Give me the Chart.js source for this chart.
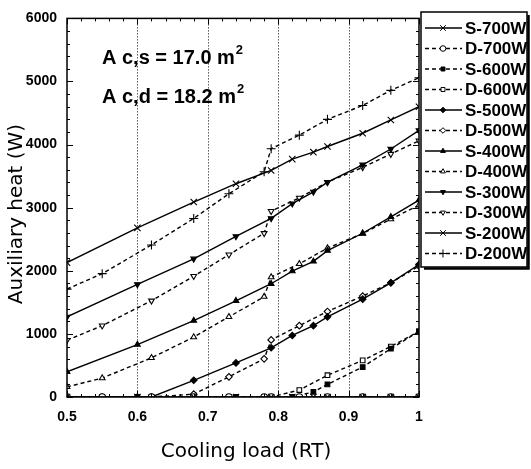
<!DOCTYPE html>
<html>
<head>
<meta charset="utf-8">
<script src="https://cdn.jsdelivr.net/npm/chart.js@4/dist/chart.umd.min.js"></script>
<style>
  html, body { margin: 0; padding: 0; background: #fff; }
  #wrap { width: 531px; height: 469px; position: relative; }
</style>
</head>
<body>
<div id="wrap"><canvas id="chart"></canvas></div>
<script>
// cooling load (RT) sample points
const xS = [0.5, 0.6, 0.68, 0.74, 0.79, 0.82, 0.85, 0.87, 0.92, 0.96, 1.0];
const xS500 = [0.5, 0.6, 0.62, 0.68, 0.74, 0.79, 0.82, 0.85, 0.87, 0.92, 0.96, 1.0];
const xD = [0.5, 0.55, 0.62, 0.68, 0.73, 0.78, 0.79, 0.83, 0.87, 0.92, 0.96, 1.0];

// auxiliary heat (W)
const s700 = [0, 0, 0, 0, 0, 0, 0, 0, 0, 0, 0];
const d700 = [0, 0, 0, 0, 0, 0, 0, 0, 0, 0, 0, 0];
const s600 = [0, 0, 0, 0, 0, 0, 80, 200, 475, 765, 1040];
const d600 = [0, 0, 0, 0, 0, 0, 0, 110, 345, 580, 800, 1040];
const s500 = [0, 0, 0, 265, 540, 780, 975, 1130, 1270, 1550, 1810, 2100];
const d500 = [0, 0, 0, 45, 320, 605, 905, 1130, 1355, 1600, 1810, 2075];
const s400 = [400, 830, 1210, 1525, 1795, 1995, 2150, 2320, 2595, 2855, 3120];
const d400 = [160, 300, 620, 950, 1270, 1590, 1900, 2110, 2360, 2590, 2820, 3040];
const s300 = [1270, 1785, 2190, 2545, 2830, 3065, 3250, 3405, 3680, 3930, 4225];
const d300 = [900, 1130, 1525, 1915, 2255, 2595, 2945, 3155, 3405, 3640, 3850, 4060];
const s200 = [2130, 2680, 3090, 3380, 3590, 3770, 3880, 3970, 4180, 4390, 4600];
const d200 = [1710, 1955, 2410, 2830, 3220, 3570, 3935, 4150, 4400, 4620, 4860, 5060];

const xTicks = [0.5, 0.6, 0.7, 0.8, 0.9, 1.0];
const gridLines = [0.6, 0.7, 0.8, 0.9];
const noteLines = ["A c,s = 17.0 m", "A c,d = 18.2 m"];

const tickFont = "'Liberation Sans', Arial, sans-serif";
const titleFont = "20px 'DejaVu Sans', sans-serif";

let pts = function(xs, ys) {
  return xs.map((x, i) => ({x: x, y: ys[i]}));
};

// label, x, y, dashed, point style, filled, rotation
let makeSet = function(label, xs, ys, dashed, style, filled, rot) {
  return {
    label: label,
    data: pts(xs, ys),
    showLine: true,
    borderColor: "#000",
    borderWidth: 1.4,
    borderDash: dashed ? [4, 3] : [],
    pointStyle: style,
    pointRotation: rot || 0,
    pointRadius: (style == "crossRot" || style == "cross") ? 4.5 : 3.3,
    pointBorderWidth: 1.1,
    pointBorderColor: "#000",
    pointBackgroundColor: filled ? "#000" : "#fff",
    tension: 0
  };
};

const datasets = [
  makeSet("S-700W", xS, s700, false, "crossRot", true),
  makeSet("D-700W", xD, d700, true, "circle", false),
  makeSet("S-600W", xS, s600, true, "rect", true),
  makeSet("D-600W", xD, d600, true, "rect", false),
  makeSet("S-500W", xS500, s500, false, "rectRot", true),
  makeSet("D-500W", xD, d500, true, "rectRot", false),
  makeSet("S-400W", xS, s400, false, "triangle", true),
  makeSet("D-400W", xD, d400, true, "triangle", false),
  makeSet("S-300W", xS, s300, false, "triangle", true, 180),
  makeSet("D-300W", xD, d300, true, "triangle", false, 180),
  makeSet("S-200W", xS, s200, false, "crossRot", true),
  makeSet("D-200W", xD, d200, true, "cross", true)
];

// frame, inner ticks, dotted grid, titles, note and legend
const decor = {
  id: "decor",
  beforeDatasetsDraw: function(chart) {
    let ctx = chart.ctx;
    let a = chart.chartArea;
    let xs = chart.scales.x;
    ctx.save();
    ctx.strokeStyle = "#000";
    ctx.lineWidth = 1;
    ctx.setLineDash([1, 2]);
    for (let g of gridLines) {
      let px = Math.round(xs.getPixelForValue(g)) + 0.5;
      ctx.beginPath();
      ctx.moveTo(px, a.top);
      ctx.lineTo(px, a.bottom);
      ctx.stroke();
    }
    ctx.restore();
  },
  afterDraw: function(chart) {
    let ctx = chart.ctx;
    let a = chart.chartArea;
    let xs = chart.scales.x;
    let ys = chart.scales.y;
    ctx.save();
    ctx.strokeStyle = "#000";
    ctx.lineWidth = 1.5;
    ctx.strokeRect(a.left, a.top, a.right - a.left, a.bottom - a.top);

    ctx.lineWidth = 1;
    for (let i = 0; i <= 25; i++) {
      let v = 0.5 + i * 0.02;
      let len = (i % 5 == 0) ? 6 : 3;
      let px = Math.round(xs.getPixelForValue(v)) + 0.5;
      ctx.beginPath();
      ctx.moveTo(px, a.bottom); ctx.lineTo(px, a.bottom - len);
      ctx.moveTo(px, a.top); ctx.lineTo(px, a.top + len);
      ctx.stroke();
    }
    for (let i = 0; i <= 30; i++) {
      let v = i * 200;
      let len = (i % 5 == 0) ? 6 : 3;
      let py = Math.round(ys.getPixelForValue(v)) + 0.5;
      ctx.beginPath();
      ctx.moveTo(a.left, py); ctx.lineTo(a.left + len, py);
      ctx.moveTo(a.right, py); ctx.lineTo(a.right - len, py);
      ctx.stroke();
    }

    // axis titles
    ctx.fillStyle = "#000";
    ctx.font = titleFont;
    ctx.textAlign = "center";
    ctx.textBaseline = "alphabetic";
    ctx.fillText("Cooling load (RT)", 246, 457);
    ctx.save();
    ctx.translate(22, 214);
    ctx.rotate(-Math.PI / 2);
    ctx.fillText("Auxiliary heat (W)", 0, 0);
    ctx.restore();

    // note
    ctx.font = "bold 20px " + tickFont;
    ctx.textAlign = "left";
    ctx.textBaseline = "middle";
    let noteY = [58, 97];
    noteLines.forEach(function(t, i) {
      ctx.fillText(t, 102, noteY[i]);
      let w = ctx.measureText(t).width;
      ctx.save();
      ctx.font = "bold 13px " + tickFont;
      ctx.fillText("2", 102 + w + 1, noteY[i] - 8);
      ctx.restore();
    });

    // legend
    let bx = 421, by = 12, bw = 106, bh = 255;
    ctx.fillStyle = "#fff";
    ctx.fillRect(bx, by, bw, bh);
    ctx.lineWidth = 1.5;
    ctx.strokeRect(bx, by, bw, bh);
    ctx.lineWidth = 2.5;
    ctx.beginPath();
    ctx.moveTo(bx + bw + 1.5, by + 3);
    ctx.lineTo(bx + bw + 1.5, by + bh + 1.5);
    ctx.lineTo(bx + 3, by + bh + 1.5);
    ctx.stroke();

    datasets.forEach(function(ds, i) {
      let y = 28 + i * 20.5;
      ctx.strokeStyle = "#000";
      ctx.lineWidth = ds.borderWidth;
      ctx.setLineDash(ds.borderDash);
      ctx.beginPath();
      ctx.moveTo(425, y);
      ctx.lineTo(462, y);
      ctx.stroke();
      ctx.setLineDash([]);
      ctx.lineWidth = 1;
      ctx.fillStyle = ds.pointBackgroundColor;
      Chart.helpers.drawPoint(ctx, {
        pointStyle: ds.pointStyle,
        rotation: ds.pointRotation,
        radius: ds.pointRadius - 0.5,
        borderWidth: 1
      }, 443, y);
      ctx.fillStyle = "#000";
      ctx.font = "bold 17px " + tickFont;
      ctx.textAlign = "left";
      ctx.textBaseline = "middle";
      ctx.fillText(ds.label, 465, y + 1);
    });
    ctx.restore();
  }
};

new Chart(document.getElementById("chart"), {
  type: "scatter",
  data: { datasets: datasets },
  plugins: [decor],
  options: {
    responsive: true,
    maintainAspectRatio: false,
    animation: false,
    layout: { padding: { left: 0, right: 112, top: 15, bottom: 0 } },
    plugins: {
      legend: { display: false },
      tooltip: { enabled: false }
    },
    scales: {
      x: {
        type: "linear",
        min: 0.5,
        max: 1.0,
        afterBuildTicks: function(scale) {
          scale.ticks = xTicks.map(v => ({value: v}));
        },
        afterFit: function(scale) { scale.height = 72; },
        grid: { display: false, drawTicks: false },
        border: { display: false },
        ticks: {
          padding: 12,
          color: "#000",
          font: { family: tickFont, size: 14, weight: "bold" },
          callback: function(v) { return String(+v.toFixed(1)); }
        }
      },
      y: {
        type: "linear",
        min: 0,
        max: 6000,
        afterFit: function(scale) { scale.width = 67; },
        grid: { display: false, drawTicks: false },
        border: { display: false },
        ticks: {
          stepSize: 1000,
          padding: 10,
          color: "#000",
          font: { family: tickFont, size: 14, weight: "bold" },
          callback: function(v) { return String(v); }
        }
      }
    }
  }
});
</script>
</body>
</html>
